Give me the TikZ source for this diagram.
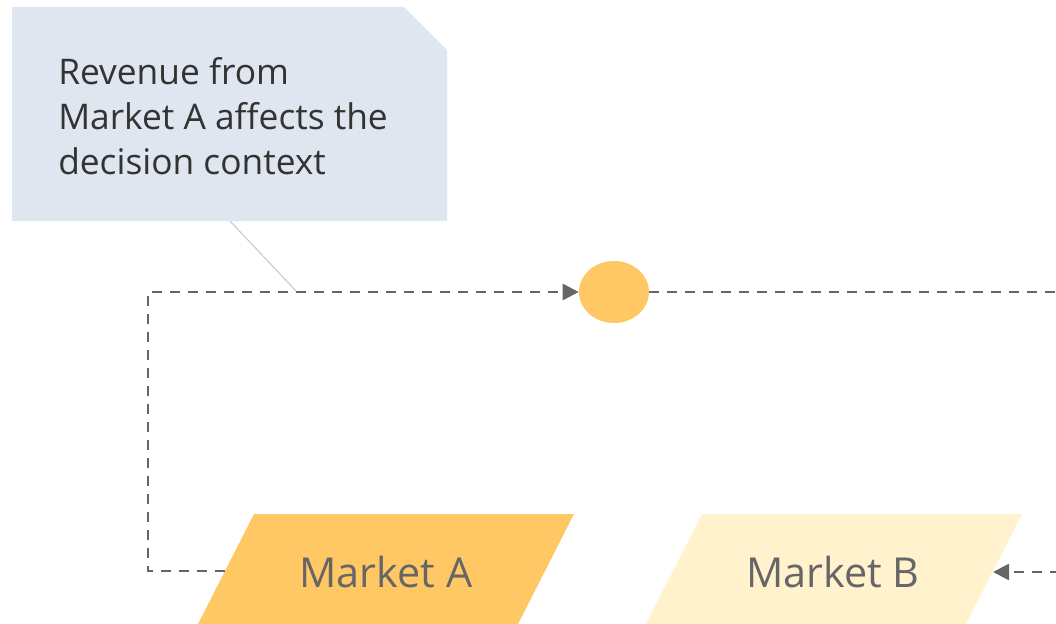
\documentclass[tikz,border=0pt]{standalone}
\usepackage{fontspec}
\setmainfont{Open Sans}
\usetikzlibrary{arrows.meta,shapes.geometric}
\definecolor{notefill}{HTML}{DFE6F0}
\definecolor{calloutc}{HTML}{B8C8E0}
\definecolor{linec}{HTML}{666666}
\definecolor{gold}{HTML}{FFC864}
\definecolor{paleg}{HTML}{FFF2CC}
\definecolor{textd}{HTML}{333333}
\definecolor{textg}{HTML}{666666}
\begin{document}
\begin{tikzpicture}[x=0.75pt,y=-0.75pt,
  flow/.style={draw=linec, line width=1.9pt, dash pattern=on 7.5pt off 6pt},
  tipend/.style={-{Triangle[length=12pt,width=12pt]}},
  mtext/.style={text=textg, font=\fontsize{31}{38}\selectfont, inner sep=0pt},
]
\useasboundingbox (0,0) rectangle (1056,624);
\clip (0,0) rectangle (1056,624);
% note
\fill[notefill] (12,7) -- (404,7) -- (447,50) -- (447,221) -- (12,221) -- cycle;
\node[anchor=north west, align=left, text=textd, font=\fontsize{26.5}{33.75}\selectfont, inner sep=0pt] (note) at (58,57) {Revenue from\\Market A affects the\\decision context};
% markets
\fill[gold] (254,514) -- (574,514) -- (515,630) -- (195,630) -- cycle;
\fill[paleg] (702,514) -- (1022,514) -- (963,630) -- (643,630) -- cycle;
\node[mtext] (mA) at (386,572) {Market A};
\node[mtext] (mB) at (833,572) {Market B};
% decision
\node[ellipse, fill=gold, minimum width=52.5pt, minimum height=46.5pt, inner sep=0pt] (dec) at (614,292) {};
% connectors
\coordinate (aL) at (225,571);
\coordinate (bR) at (993,572);
\coordinate (rTop) at (1060,292);
\coordinate (rBot) at (1060,572);
\draw[flow, tipend] (aL) -- ++(-77,0) |- (dec.west);
\draw[flow] (dec.east) -- (rTop);
\draw[flow, tipend] (rBot) -- (bR);
% callout
\coordinate (cA) at (230,221);
\coordinate (cB) at (296,291);
\draw[calloutc, line width=0.75pt] (cA) -- (cB);
\end{tikzpicture}
\end{document}
